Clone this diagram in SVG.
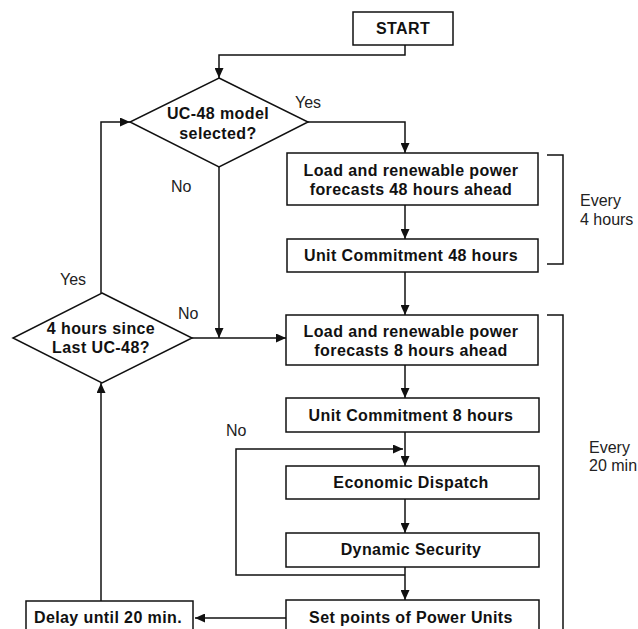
<svg xmlns="http://www.w3.org/2000/svg" width="638" height="629" viewBox="0 0 638 629">
<style>
.box{fill:#fff;stroke:#111;stroke-width:1.5}
.b{font-family:"Liberation Sans",Arial,sans-serif;font-weight:bold;font-size:16px;letter-spacing:0.4px;fill:#111;text-anchor:middle}
.n{font-family:"Liberation Sans",Arial,sans-serif;font-size:16px;fill:#222}
.c{fill:none;stroke:#111;stroke-width:1.5}
</style>
<defs>
<marker id="arr" markerUnits="userSpaceOnUse" markerWidth="10" markerHeight="9" refX="10" refY="4.5" orient="auto">
<path d="M0,0 L10,4.5 L0,9 z" fill="#111"/>
</marker>
</defs>
<rect width="638" height="629" fill="#fff"/>
<g id="connectors">
<path class="c" d="M405,45 V55 H219 V78" marker-end="url(#arr)"/>
<path class="c" d="M308,122 H405 V153" marker-end="url(#arr)"/>
<path class="c" d="M405,205 V239" marker-end="url(#arr)"/>
<path class="c" d="M405,272 V315" marker-end="url(#arr)"/>
<path class="c" d="M219,167 V338" marker-end="url(#arr)"/>
<path class="c" d="M192,338 H286" marker-end="url(#arr)"/>
<path class="c" d="M405,365 V398" marker-end="url(#arr)"/>
<path class="c" d="M405,432 V466" marker-end="url(#arr)"/>
<path class="c" d="M405,499 V533" marker-end="url(#arr)"/>
<path class="c" d="M405,567 V600" marker-end="url(#arr)"/>
<path class="c" d="M405,575 H236 V449 H403" marker-end="url(#arr)"/>
<path class="c" d="M286,618 H195" marker-end="url(#arr)"/>
<path class="c" d="M101,601 V383" marker-end="url(#arr)"/>
<path class="c" d="M101,293 V122 H130" marker-end="url(#arr)"/>
<text class="n" x="295" y="108">Yes</text>
<text class="n" x="171" y="192">No</text>
<text class="n" x="60" y="285">Yes</text>
<text class="n" x="178" y="319">No</text>
<text class="n" x="226" y="436">No</text>
</g>
<g id="bracket1">
<path class="c" d="M547,155 H563 V264 H547"/>
<text class="n" x="580" y="206">Every</text>
<text class="n" x="580" y="225">4 hours</text>
</g>
<g id="bracket2">
<path class="c" d="M547,315 H563 V640"/>
<text class="n" x="589" y="453">Every</text>
<text class="n" x="589" y="471">20 min</text>
</g>
<g id="start">
<rect class="box" x="353" y="12" width="100" height="33"/>
<text class="b" x="403" y="34">START</text>
</g>
<g id="d1">
<polygon class="box" points="219,78 308,122 219,167 130,122"/>
<text class="b" x="218" y="119">UC-48 model</text>
<text class="b" x="218" y="139">selected?</text>
</g>
<g id="d2">
<polygon class="box" points="102,293 192,338 102,383 13,338"/>
<text class="b" x="101" y="334">4 hours since</text>
<text class="b" x="101" y="353">Last UC-48?</text>
</g>
<g id="box2">
<rect class="box" x="287" y="153" width="251" height="52"/>
<text class="b" x="411" y="176">Load and renewable power</text>
<text class="b" x="411" y="195">forecasts 48 hours ahead</text>
</g>
<g id="box3">
<rect class="box" x="287" y="239" width="251" height="33"/>
<text class="b" x="411" y="261">Unit Commitment 48 hours</text>
</g>
<g id="box4">
<rect class="box" x="286" y="315" width="252" height="50"/>
<text class="b" x="411" y="337">Load and renewable power</text>
<text class="b" x="411" y="356">forecasts 8 hours ahead</text>
</g>
<g id="box5">
<rect class="box" x="286" y="398" width="253" height="34"/>
<text class="b" x="411" y="421">Unit Commitment 8 hours</text>
</g>
<g id="box6">
<rect class="box" x="286" y="466" width="253" height="33"/>
<text class="b" x="411" y="488">Economic Dispatch</text>
</g>
<g id="box7">
<rect class="box" x="286" y="533" width="253" height="34"/>
<text class="b" x="411" y="555">Dynamic Security</text>
</g>
<g id="box8">
<rect class="box" x="286" y="600" width="253" height="36"/>
<text class="b" x="411" y="623">Set points of Power Units</text>
</g>
<g id="delay">
<rect class="box" x="26" y="601" width="167" height="36"/>
<text class="b" x="108" y="623">Delay until 20 min.</text>
</g>
</svg>
